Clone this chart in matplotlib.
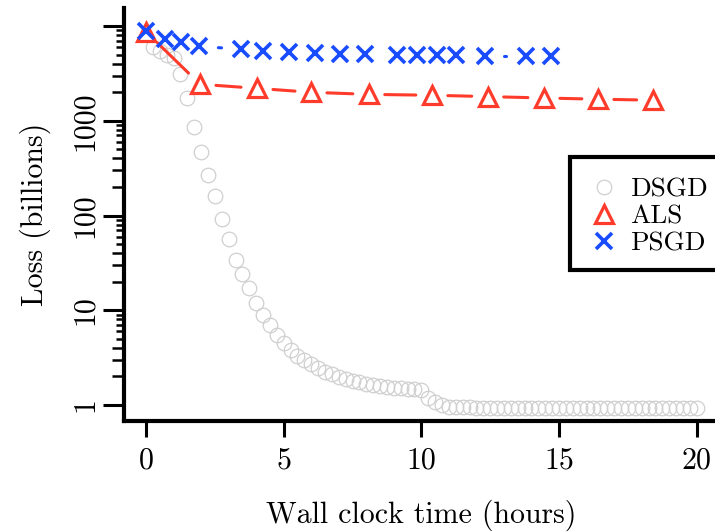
import numpy as np
import matplotlib
matplotlib.use("Agg")
import matplotlib.pyplot as plt
from matplotlib.markers import TICKLEFT
from matplotlib.patches import Rectangle
from matplotlib.ticker import FixedLocator, FixedFormatter, NullFormatter

plt.rcParams['font.family'] = ['cmr10', 'DejaVu Serif']
plt.rcParams['axes.unicode_minus'] = False
plt.rcParams['axes.formatter.use_mathtext'] = True

# DSGD: loss every quarter hour
dsgd_hours = [0.25, 0.5, 0.75, 1.0, 1.25, 1.5, 1.75, 2.0, 2.25, 2.5, 2.75, 3.0,
              3.25, 3.5, 3.75, 4.0, 4.25, 4.5, 4.75, 5.0, 5.25, 5.5, 5.75, 6.0,
              6.25, 6.5, 6.75, 7.0, 7.25, 7.5, 7.75, 8.0, 8.25, 8.5, 8.75, 9.0,
              9.25, 9.5, 9.75, 10.0, 10.25, 10.5, 10.75, 11.0, 11.25, 11.5, 11.75, 12.0,
              12.25, 12.5, 12.75, 13.0, 13.25, 13.5, 13.75, 14.0, 14.25, 14.5, 14.75, 15.0,
              15.25, 15.5, 15.75, 16.0, 16.25, 16.5, 16.75, 17.0, 17.25, 17.5, 17.75, 18.0,
              18.25, 18.5, 18.75, 19.0, 19.25, 19.5, 19.75, 20.0]
dsgd_loss = [6000, 5400, 5000, 4600, 3100, 1750, 870, 465, 265, 162, 93, 56,
             34, 24, 17, 12, 9.0, 7.0, 5.5, 4.5, 3.8, 3.3, 2.95, 2.68,
             2.45, 2.25, 2.1, 1.98, 1.88, 1.80, 1.73, 1.67, 1.63, 1.59, 1.55, 1.52,
             1.50, 1.48, 1.46, 1.44, 1.19, 1.08, 1.0, 0.96, 0.95, 0.95, 0.95, 0.94,
             0.94, 0.94, 0.94, 0.94, 0.94, 0.94, 0.93, 0.93, 0.93, 0.93, 0.93, 0.93,
             0.93, 0.93, 0.93, 0.93, 0.93, 0.93, 0.93, 0.93, 0.93, 0.93, 0.93, 0.93,
             0.93, 0.93, 0.93, 0.93, 0.93, 0.93, 0.93, 0.93]

als_hours = [0.0, 1.96, 4.03, 5.99, 8.09, 10.38, 12.41, 14.45, 16.41, 18.4]
als_loss = [8700, 2430, 2200, 2000, 1900, 1860, 1800, 1740, 1690, 1650]

psgd_hours = [0.0, 0.69, 1.27, 1.92, 3.45, 4.25, 5.19, 6.13, 7.04, 7.95,
              9.11, 9.84, 10.56, 11.25, 12.3, 13.8, 14.7]
psgd_loss = [8800, 7300, 6800, 6100, 5700, 5450, 5300, 5200, 5050, 5050,
             4950, 4950, 4950, 4900, 4850, 4850, 4850]

y_ticks = [1, 10, 100, 1000, 10000]
y_tick_labels = ['1', '10', '100', '1000', '']
x_ticks = [0, 5, 10, 15, 20]

RED = '#ff3b2b'
BLUE = '#1a4cff'
GREY = '#cfcfcf'

fig = plt.figure(figsize=(7.15, 5.32), dpi=100)
ax = fig.add_axes([124 / 715, 111 / 532, 614 / 715, 413 / 532])
ax.set_yscale('log')
ax.set_xlim(-0.8, 21.5)
ax.set_ylim(0.678, 15500)


def gapped_line(xs, ys, gap, **kw):
    # lines between points, stopped short of each marker (like R type="b")
    pts = ax.transData.transform(np.column_stack([xs, ys]))
    inv = ax.transData.inverted()
    for p0, p1 in zip(pts[:-1], pts[1:]):
        d = p1 - p0
        L = np.hypot(*d)
        if L <= 2 * gap:
            continue
        u = d / L
        seg = inv.transform(np.array([p0 + u * gap, p1 - u * gap]))
        ax.plot(seg[:, 0], seg[:, 1], solid_capstyle='round', **kw)


ax.plot(dsgd_hours, dsgd_loss, ls='none', marker='o', ms=10.5, mfc='none',
        mec=GREY, mew=0.9, label='DSGD')

gapped_line(als_hours, als_loss, 16, color=RED, lw=2.2)
ax.plot(als_hours, als_loss, ls='none', marker='^', ms=13, mfc='none',
        mec=RED, mew=2.3, label='ALS')

gapped_line(psgd_hours, psgd_loss, 19.5, color=BLUE, lw=2.2)
ax.plot(psgd_hours, psgd_loss, ls='none', marker='x', ms=11, mec=BLUE,
        mew=2.6, label='PSGD')

for side in ['top', 'right']:
    ax.spines[side].set_visible(False)
for side in ['left', 'bottom']:
    ax.spines[side].set_linewidth(3)

ax.set_xticks(x_ticks)
ax.set_xticklabels([str(t) for t in x_ticks])
ax.yaxis.set_major_locator(FixedLocator(y_ticks))
ax.yaxis.set_major_formatter(FixedFormatter(y_tick_labels))
minor = [m * 10 ** e for e in range(0, 4) for m in range(5, 10)]
ax.yaxis.set_minor_locator(FixedLocator(minor))
ax.yaxis.set_minor_formatter(NullFormatter())

ax.tick_params(axis='x', which='major', length=11.5, width=2.2, labelsize=21.5, pad=7)
ax.tick_params(axis='y', which='major', length=15, width=2.2, labelsize=21.5, pad=3)
ax.tick_params(axis='y', which='minor', length=6, width=1.8)
for lab in ax.get_yticklabels():
    lab.set_rotation(90)
    lab.set_va('center')

# medium-length ticks at 2, 3, 4 of each decade
mid = [m * 10 ** e for e in range(0, 4) for m in (2, 3, 4)]
ax.plot([0] * len(mid), mid, transform=ax.get_yaxis_transform(), ls='none',
        marker=TICKLEFT, ms=8.5, mew=1.8, color='k', clip_on=False)

ax.set_xlabel('Wall clock time (hours)', fontsize=21.5)
ax.set_ylabel('Loss (billions)', fontsize=21.5)
ax.xaxis.set_label_coords((421 - 124) / 614, -(515 - 421) / 413)
ax.xaxis.label.set_va('center')
ax.yaxis.set_label_coords((35 - 124) / 614, 0.5)
ax.yaxis.label.set_va('center')

# legend box runs off the right edge, as in the original figure
box = Rectangle((570 / 715, (532 - 270) / 532), 170 / 715, 113 / 532,
                transform=fig.transFigure, facecolor='white', edgecolor='black',
                linewidth=3, zorder=4)
fig.add_artist(box)
handles = [l for l in ax.get_lines() if not l.get_label().startswith('_')]
leg = fig.legend(handles=handles,
                 loc='upper left', bbox_to_anchor=(570 / 715, 1 - 157 / 532),
                 fontsize=19.5, frameon=False, borderpad=0.75, labelspacing=0.12,
                 handlelength=1.0, handletextpad=0.45, borderaxespad=0)
leg.set_zorder(5)

fig.savefig('out.png', dpi=100)
